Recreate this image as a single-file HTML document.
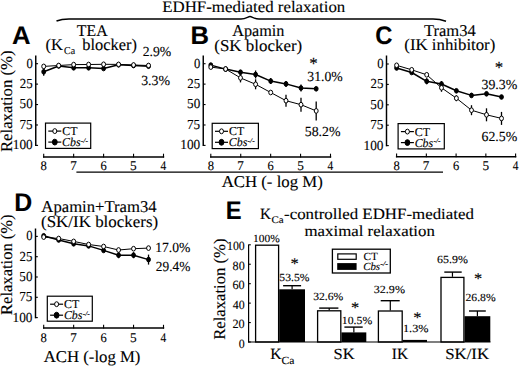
<!DOCTYPE html>
<html><head><meta charset="utf-8"><style>
html,body{margin:0;padding:0;background:#fff;}
svg{display:block;text-rendering:geometricPrecision;}
text{fill:#000;stroke:#000;stroke-width:0.12px;}
</style></head><body>
<svg width="520" height="366" viewBox="0 0 520 366">
<rect width="520" height="366" fill="#fff"/>
<text x="162.24" y="11.50" font-size="16" textLength="183.00" lengthAdjust="spacingAndGlyphs" font-family='"Liberation Serif", serif'>EDHF-mediated relaxation</text>
<path d="M56.5,21 C60,19.6 63,19.0 69,19.0 L241,19.0 C246,19.0 248,16.6 250,16.6 C252,16.6 254,19.0 259,19.0 L433,19.0 C439,19.0 442,19.8 446,21.3" fill="none" stroke="#000" stroke-width="1.5"/>
<text x="12.11" y="43.60" font-size="25.5" textLength="18.54" lengthAdjust="spacingAndGlyphs" font-weight="bold" font-family='"Liberation Sans", sans-serif'>A</text>
<text x="76.83" y="36.30" font-size="16.3" textLength="30.76" lengthAdjust="spacingAndGlyphs" font-family='"Liberation Serif", serif'>TEA</text>
<text x="45.51" y="50.00" font-size="16.5" textLength="17.41" lengthAdjust="spacingAndGlyphs" font-family='"Liberation Serif", serif'>(K</text>
<text x="64.05" y="53.90" font-size="10.5" textLength="11.06" lengthAdjust="spacingAndGlyphs" font-family='"Liberation Serif", serif'>Ca</text>
<text x="82.35" y="50.00" font-size="16.5" textLength="54.68" lengthAdjust="spacingAndGlyphs" font-family='"Liberation Serif", serif'>blocker)</text>
<text x="0" y="0" font-size="16.5" textLength="101.59" lengthAdjust="spacingAndGlyphs" font-family='"Liberation Serif", serif' transform="translate(11.70,152.05) rotate(-90)">Relaxation (%)</text>
<line x1="35.75" y1="55.50" x2="35.75" y2="146.10" stroke="#000" stroke-width="1.45"/>
<line x1="35.75" y1="63.70" x2="38.05" y2="63.70" stroke="#000" stroke-width="1.1"/>
<text x="26.40" y="67.60" font-size="13.8" textLength="6.31" lengthAdjust="spacingAndGlyphs" font-family='"Liberation Serif", serif'>0</text>
<line x1="35.75" y1="84.12" x2="38.05" y2="84.12" stroke="#000" stroke-width="1.1"/>
<text x="19.82" y="88.03" font-size="13.8" textLength="12.90" lengthAdjust="spacingAndGlyphs" font-family='"Liberation Serif", serif'>25</text>
<line x1="35.75" y1="104.55" x2="38.05" y2="104.55" stroke="#000" stroke-width="1.1"/>
<text x="19.61" y="108.45" font-size="13.8" textLength="13.11" lengthAdjust="spacingAndGlyphs" font-family='"Liberation Serif", serif'>50</text>
<line x1="35.75" y1="124.98" x2="38.05" y2="124.98" stroke="#000" stroke-width="1.1"/>
<text x="19.54" y="128.88" font-size="13.8" textLength="13.18" lengthAdjust="spacingAndGlyphs" font-family='"Liberation Serif", serif'>75</text>
<line x1="35.75" y1="145.40" x2="38.05" y2="145.40" stroke="#000" stroke-width="1.1"/>
<text x="12.80" y="149.30" font-size="13.8" textLength="19.93" lengthAdjust="spacingAndGlyphs" font-family='"Liberation Serif", serif'>100</text>
<line x1="43.00" y1="156.90" x2="164.20" y2="156.90" stroke="#000" stroke-width="1.45"/>
<line x1="43.70" y1="157.50" x2="43.70" y2="153.70" stroke="#000" stroke-width="1.1"/>
<text x="40.55" y="170.30" font-size="13.2" textLength="6.31" lengthAdjust="spacingAndGlyphs" font-family='"Liberation Serif", serif'>8</text>
<line x1="73.65" y1="157.50" x2="73.65" y2="153.70" stroke="#000" stroke-width="1.1"/>
<text x="70.15" y="170.30" font-size="13.2" textLength="6.54" lengthAdjust="spacingAndGlyphs" font-family='"Liberation Serif", serif'>7</text>
<line x1="103.60" y1="157.50" x2="103.60" y2="153.70" stroke="#000" stroke-width="1.1"/>
<text x="100.39" y="170.30" font-size="13.2" textLength="6.24" lengthAdjust="spacingAndGlyphs" font-family='"Liberation Serif", serif'>6</text>
<line x1="133.55" y1="157.50" x2="133.55" y2="153.70" stroke="#000" stroke-width="1.1"/>
<text x="130.11" y="170.30" font-size="13.2" textLength="6.63" lengthAdjust="spacingAndGlyphs" font-family='"Liberation Serif", serif'>5</text>
<line x1="163.50" y1="157.50" x2="163.50" y2="153.70" stroke="#000" stroke-width="1.1"/>
<text x="160.62" y="170.30" font-size="13.2" textLength="5.70" lengthAdjust="spacingAndGlyphs" font-family='"Liberation Serif", serif'>4</text>
<line x1="43.70" y1="67.80" x2="43.70" y2="75.80" stroke="#000" stroke-width="1.3"/>
<line x1="103.60" y1="67.00" x2="103.60" y2="70.00" stroke="#000" stroke-width="1.3"/>
<polyline points="43.70,71.80 58.68,66.00 73.65,67.80 88.62,67.80 103.60,68.50 118.58,64.80 133.55,65.50 148.53,66.20" fill="none" stroke="#000" stroke-width="1.5" stroke-linejoin="round"/>
<polyline points="43.70,66.40 58.68,65.50 73.65,64.60 88.62,64.50 103.60,64.30 118.58,64.40 133.55,65.00 148.53,65.50" fill="none" stroke="#000" stroke-width="1.0" stroke-linejoin="round"/>
<ellipse cx="43.70" cy="71.80" rx="1.9" ry="2.35" fill="#000" stroke="#000" stroke-width="1.0"/>
<ellipse cx="58.68" cy="66.00" rx="1.9" ry="2.35" fill="#000" stroke="#000" stroke-width="1.0"/>
<ellipse cx="73.65" cy="67.80" rx="1.9" ry="2.35" fill="#000" stroke="#000" stroke-width="1.0"/>
<ellipse cx="88.62" cy="67.80" rx="1.9" ry="2.35" fill="#000" stroke="#000" stroke-width="1.0"/>
<ellipse cx="103.60" cy="68.50" rx="1.9" ry="2.35" fill="#000" stroke="#000" stroke-width="1.0"/>
<ellipse cx="118.58" cy="64.80" rx="1.9" ry="2.35" fill="#000" stroke="#000" stroke-width="1.0"/>
<ellipse cx="133.55" cy="65.50" rx="1.9" ry="2.35" fill="#000" stroke="#000" stroke-width="1.0"/>
<ellipse cx="148.53" cy="66.20" rx="1.9" ry="2.35" fill="#000" stroke="#000" stroke-width="1.0"/>
<ellipse cx="43.70" cy="66.40" rx="1.95" ry="2.35" fill="#fff" stroke="#000" stroke-width="1.0"/>
<ellipse cx="58.68" cy="65.50" rx="1.95" ry="2.35" fill="#fff" stroke="#000" stroke-width="1.0"/>
<ellipse cx="73.65" cy="64.60" rx="1.95" ry="2.35" fill="#fff" stroke="#000" stroke-width="1.0"/>
<ellipse cx="88.62" cy="64.50" rx="1.95" ry="2.35" fill="#fff" stroke="#000" stroke-width="1.0"/>
<ellipse cx="103.60" cy="64.30" rx="1.95" ry="2.35" fill="#fff" stroke="#000" stroke-width="1.0"/>
<ellipse cx="118.58" cy="64.40" rx="1.95" ry="2.35" fill="#fff" stroke="#000" stroke-width="1.0"/>
<ellipse cx="133.55" cy="65.00" rx="1.95" ry="2.35" fill="#fff" stroke="#000" stroke-width="1.0"/>
<ellipse cx="148.53" cy="65.50" rx="1.95" ry="2.35" fill="#fff" stroke="#000" stroke-width="1.0"/>
<text x="142.63" y="56.00" font-size="13.9" textLength="28.57" lengthAdjust="spacingAndGlyphs" font-family='"Liberation Serif", serif'>2.9%</text>
<text x="141.16" y="85.10" font-size="13.9" textLength="28.95" lengthAdjust="spacingAndGlyphs" font-family='"Liberation Serif", serif'>3.3%</text>
<rect x="45.50" y="123.10" width="45.20" height="25.30" fill="#fff" stroke="#000" stroke-width="1.2"/>
<line x1="48.30" y1="131.10" x2="61.30" y2="131.10" stroke="#000" stroke-width="1.2"/>
<ellipse cx="54.80" cy="131.10" rx="2.0" ry="2.44" fill="#fff" stroke="#000" stroke-width="1.0"/>
<text x="62.27" y="135.20" font-size="12" textLength="15.19" lengthAdjust="spacingAndGlyphs" font-family='"Liberation Serif", serif'>CT</text>
<line x1="48.30" y1="142.10" x2="61.30" y2="142.10" stroke="#000" stroke-width="1.2"/>
<ellipse cx="54.80" cy="142.10" rx="2.4" ry="2.93" fill="#000" stroke="#000" stroke-width="1.0"/>
<text x="62.10" y="146.00" font-size="12" textLength="18.53" lengthAdjust="spacingAndGlyphs" font-style="italic" font-family='"Liberation Serif", serif'>Cbs</text>
<text x="80.89" y="142.70" font-size="7.0" textLength="7.05" lengthAdjust="spacingAndGlyphs" font-style="italic" font-family='"Liberation Serif", serif'>-/-</text>
<text x="190.49" y="43.60" font-size="25.5" textLength="18.47" lengthAdjust="spacingAndGlyphs" font-weight="bold" font-family='"Liberation Sans", sans-serif'>B</text>
<text x="232.19" y="36.10" font-size="16.5" textLength="52.23" lengthAdjust="spacingAndGlyphs" font-family='"Liberation Serif", serif'>Apamin</text>
<text x="214.29" y="50.70" font-size="16.5" textLength="87.89" lengthAdjust="spacingAndGlyphs" font-family='"Liberation Serif", serif'>(SK blocker)</text>
<line x1="203.25" y1="55.50" x2="203.25" y2="146.10" stroke="#000" stroke-width="1.45"/>
<line x1="203.25" y1="63.70" x2="205.55" y2="63.70" stroke="#000" stroke-width="1.1"/>
<text x="193.90" y="67.60" font-size="13.8" textLength="6.31" lengthAdjust="spacingAndGlyphs" font-family='"Liberation Serif", serif'>0</text>
<line x1="203.25" y1="84.12" x2="205.55" y2="84.12" stroke="#000" stroke-width="1.1"/>
<text x="187.32" y="88.03" font-size="13.8" textLength="12.90" lengthAdjust="spacingAndGlyphs" font-family='"Liberation Serif", serif'>25</text>
<line x1="203.25" y1="104.55" x2="205.55" y2="104.55" stroke="#000" stroke-width="1.1"/>
<text x="187.11" y="108.45" font-size="13.8" textLength="13.11" lengthAdjust="spacingAndGlyphs" font-family='"Liberation Serif", serif'>50</text>
<line x1="203.25" y1="124.98" x2="205.55" y2="124.98" stroke="#000" stroke-width="1.1"/>
<text x="187.04" y="128.88" font-size="13.8" textLength="13.18" lengthAdjust="spacingAndGlyphs" font-family='"Liberation Serif", serif'>75</text>
<line x1="203.25" y1="145.40" x2="205.55" y2="145.40" stroke="#000" stroke-width="1.1"/>
<text x="180.30" y="149.30" font-size="13.8" textLength="19.93" lengthAdjust="spacingAndGlyphs" font-family='"Liberation Serif", serif'>100</text>
<line x1="210.10" y1="156.90" x2="331.20" y2="156.90" stroke="#000" stroke-width="1.45"/>
<line x1="210.80" y1="157.50" x2="210.80" y2="153.70" stroke="#000" stroke-width="1.1"/>
<text x="207.65" y="170.30" font-size="13.2" textLength="6.31" lengthAdjust="spacingAndGlyphs" font-family='"Liberation Serif", serif'>8</text>
<line x1="240.73" y1="157.50" x2="240.73" y2="153.70" stroke="#000" stroke-width="1.1"/>
<text x="237.22" y="170.30" font-size="13.2" textLength="6.54" lengthAdjust="spacingAndGlyphs" font-family='"Liberation Serif", serif'>7</text>
<line x1="270.65" y1="157.50" x2="270.65" y2="153.70" stroke="#000" stroke-width="1.1"/>
<text x="267.44" y="170.30" font-size="13.2" textLength="6.24" lengthAdjust="spacingAndGlyphs" font-family='"Liberation Serif", serif'>6</text>
<line x1="300.57" y1="157.50" x2="300.57" y2="153.70" stroke="#000" stroke-width="1.1"/>
<text x="297.13" y="170.30" font-size="13.2" textLength="6.62" lengthAdjust="spacingAndGlyphs" font-family='"Liberation Serif", serif'>5</text>
<line x1="330.50" y1="157.50" x2="330.50" y2="153.70" stroke="#000" stroke-width="1.1"/>
<text x="327.62" y="170.30" font-size="13.2" textLength="5.70" lengthAdjust="spacingAndGlyphs" font-family='"Liberation Serif", serif'>4</text>
<line x1="240.50" y1="70.20" x2="240.50" y2="74.20" stroke="#000" stroke-width="1.3"/>
<line x1="255.60" y1="70.50" x2="255.60" y2="78.50" stroke="#000" stroke-width="1.3"/>
<line x1="270.70" y1="78.10" x2="270.70" y2="84.10" stroke="#000" stroke-width="1.3"/>
<line x1="286.00" y1="80.90" x2="286.00" y2="86.90" stroke="#000" stroke-width="1.3"/>
<line x1="301.00" y1="84.50" x2="301.00" y2="91.50" stroke="#000" stroke-width="1.3"/>
<polyline points="210.80,65.10 225.60,69.10 240.50,72.20 255.60,74.50 270.70,81.10 286.00,83.90 301.00,88.00 316.20,88.80" fill="none" stroke="#000" stroke-width="1.5" stroke-linejoin="round"/>
<line x1="240.50" y1="73.40" x2="240.50" y2="82.40" stroke="#000" stroke-width="1.3"/>
<line x1="255.60" y1="79.30" x2="255.60" y2="89.30" stroke="#000" stroke-width="1.3"/>
<line x1="286.00" y1="94.70" x2="286.00" y2="106.70" stroke="#000" stroke-width="1.3"/>
<line x1="301.00" y1="97.70" x2="301.00" y2="111.70" stroke="#000" stroke-width="1.3"/>
<line x1="316.20" y1="101.40" x2="316.20" y2="120.40" stroke="#000" stroke-width="1.3"/>
<polyline points="210.80,67.10 225.60,69.00 240.50,77.90 255.60,84.30 270.70,92.50 286.00,100.70 301.00,104.70 316.20,110.90" fill="none" stroke="#000" stroke-width="1.0" stroke-linejoin="round"/>
<ellipse cx="210.80" cy="65.10" rx="1.9" ry="2.35" fill="#000" stroke="#000" stroke-width="1.0"/>
<ellipse cx="225.60" cy="69.10" rx="1.9" ry="2.35" fill="#000" stroke="#000" stroke-width="1.0"/>
<ellipse cx="240.50" cy="72.20" rx="1.9" ry="2.35" fill="#000" stroke="#000" stroke-width="1.0"/>
<ellipse cx="255.60" cy="74.50" rx="1.9" ry="2.35" fill="#000" stroke="#000" stroke-width="1.0"/>
<ellipse cx="270.70" cy="81.10" rx="1.9" ry="2.35" fill="#000" stroke="#000" stroke-width="1.0"/>
<ellipse cx="286.00" cy="83.90" rx="1.9" ry="2.35" fill="#000" stroke="#000" stroke-width="1.0"/>
<ellipse cx="301.00" cy="88.00" rx="1.9" ry="2.35" fill="#000" stroke="#000" stroke-width="1.0"/>
<ellipse cx="316.20" cy="88.80" rx="1.9" ry="2.35" fill="#000" stroke="#000" stroke-width="1.0"/>
<ellipse cx="210.80" cy="67.10" rx="1.95" ry="2.35" fill="#fff" stroke="#000" stroke-width="1.0"/>
<ellipse cx="225.60" cy="69.00" rx="1.95" ry="2.35" fill="#fff" stroke="#000" stroke-width="1.0"/>
<ellipse cx="240.50" cy="77.90" rx="1.95" ry="2.35" fill="#fff" stroke="#000" stroke-width="1.0"/>
<ellipse cx="255.60" cy="84.30" rx="1.95" ry="2.35" fill="#fff" stroke="#000" stroke-width="1.0"/>
<ellipse cx="270.70" cy="92.50" rx="1.95" ry="2.35" fill="#fff" stroke="#000" stroke-width="1.0"/>
<ellipse cx="286.00" cy="100.70" rx="1.95" ry="2.35" fill="#fff" stroke="#000" stroke-width="1.0"/>
<ellipse cx="301.00" cy="104.70" rx="1.95" ry="2.35" fill="#fff" stroke="#000" stroke-width="1.0"/>
<ellipse cx="316.20" cy="110.90" rx="1.95" ry="2.35" fill="#fff" stroke="#000" stroke-width="1.0"/>
<text x="309.15" y="68.73" font-size="17" font-family='"Liberation Serif", serif'>*</text>
<text x="307.36" y="81.00" font-size="13.9" textLength="35.44" lengthAdjust="spacingAndGlyphs" font-family='"Liberation Serif", serif'>31.0%</text>
<text x="304.72" y="136.20" font-size="13.9" textLength="35.79" lengthAdjust="spacingAndGlyphs" font-family='"Liberation Serif", serif'>58.2%</text>
<rect x="212.20" y="123.30" width="46.20" height="25.30" fill="#fff" stroke="#000" stroke-width="1.2"/>
<line x1="215.00" y1="131.30" x2="228.00" y2="131.30" stroke="#000" stroke-width="1.2"/>
<ellipse cx="221.50" cy="131.30" rx="2.0" ry="2.44" fill="#fff" stroke="#000" stroke-width="1.0"/>
<text x="228.97" y="135.40" font-size="12" textLength="15.19" lengthAdjust="spacingAndGlyphs" font-family='"Liberation Serif", serif'>CT</text>
<line x1="215.00" y1="142.30" x2="228.00" y2="142.30" stroke="#000" stroke-width="1.2"/>
<ellipse cx="221.50" cy="142.30" rx="2.4" ry="2.93" fill="#000" stroke="#000" stroke-width="1.0"/>
<text x="228.80" y="146.20" font-size="12" textLength="18.53" lengthAdjust="spacingAndGlyphs" font-style="italic" font-family='"Liberation Serif", serif'>Cbs</text>
<text x="247.59" y="142.90" font-size="7.0" textLength="7.05" lengthAdjust="spacingAndGlyphs" font-style="italic" font-family='"Liberation Serif", serif'>-/-</text>
<text x="375.30" y="43.90" font-size="25.5" textLength="17.20" lengthAdjust="spacingAndGlyphs" font-weight="bold" font-family='"Liberation Sans", sans-serif'>C</text>
<text x="423.92" y="35.50" font-size="16.5" textLength="51.79" lengthAdjust="spacingAndGlyphs" font-family='"Liberation Serif", serif'>Tram34</text>
<text x="404.29" y="50.30" font-size="16.5" textLength="91.04" lengthAdjust="spacingAndGlyphs" font-family='"Liberation Serif", serif'>(IK inhibitor)</text>
<line x1="386.50" y1="55.50" x2="386.50" y2="146.30" stroke="#000" stroke-width="1.45"/>
<line x1="386.50" y1="64.00" x2="388.80" y2="64.00" stroke="#000" stroke-width="1.1"/>
<text x="377.15" y="67.90" font-size="13.8" textLength="6.31" lengthAdjust="spacingAndGlyphs" font-family='"Liberation Serif", serif'>0</text>
<line x1="386.50" y1="84.40" x2="388.80" y2="84.40" stroke="#000" stroke-width="1.1"/>
<text x="370.57" y="88.30" font-size="13.8" textLength="12.90" lengthAdjust="spacingAndGlyphs" font-family='"Liberation Serif", serif'>25</text>
<line x1="386.50" y1="104.80" x2="388.80" y2="104.80" stroke="#000" stroke-width="1.1"/>
<text x="370.36" y="108.70" font-size="13.8" textLength="13.11" lengthAdjust="spacingAndGlyphs" font-family='"Liberation Serif", serif'>50</text>
<line x1="386.50" y1="125.20" x2="388.80" y2="125.20" stroke="#000" stroke-width="1.1"/>
<text x="370.29" y="129.10" font-size="13.8" textLength="13.18" lengthAdjust="spacingAndGlyphs" font-family='"Liberation Serif", serif'>75</text>
<line x1="386.50" y1="145.60" x2="388.80" y2="145.60" stroke="#000" stroke-width="1.1"/>
<text x="363.55" y="149.50" font-size="13.8" textLength="19.93" lengthAdjust="spacingAndGlyphs" font-family='"Liberation Serif", serif'>100</text>
<line x1="395.90" y1="156.70" x2="516.30" y2="156.70" stroke="#000" stroke-width="1.45"/>
<line x1="396.60" y1="157.30" x2="396.60" y2="153.50" stroke="#000" stroke-width="1.1"/>
<text x="393.45" y="170.30" font-size="13.2" textLength="6.31" lengthAdjust="spacingAndGlyphs" font-family='"Liberation Serif", serif'>8</text>
<line x1="426.35" y1="157.30" x2="426.35" y2="153.50" stroke="#000" stroke-width="1.1"/>
<text x="422.85" y="170.30" font-size="13.2" textLength="6.54" lengthAdjust="spacingAndGlyphs" font-family='"Liberation Serif", serif'>7</text>
<line x1="456.10" y1="157.30" x2="456.10" y2="153.50" stroke="#000" stroke-width="1.1"/>
<text x="452.89" y="170.30" font-size="13.2" textLength="6.24" lengthAdjust="spacingAndGlyphs" font-family='"Liberation Serif", serif'>6</text>
<line x1="485.85" y1="157.30" x2="485.85" y2="153.50" stroke="#000" stroke-width="1.1"/>
<text x="482.41" y="170.30" font-size="13.2" textLength="6.62" lengthAdjust="spacingAndGlyphs" font-family='"Liberation Serif", serif'>5</text>
<line x1="515.60" y1="157.30" x2="515.60" y2="153.50" stroke="#000" stroke-width="1.1"/>
<text x="512.72" y="170.30" font-size="13.2" textLength="5.70" lengthAdjust="spacingAndGlyphs" font-family='"Liberation Serif", serif'>4</text>
<line x1="426.70" y1="78.30" x2="426.70" y2="84.30" stroke="#000" stroke-width="1.3"/>
<line x1="441.50" y1="81.00" x2="441.50" y2="87.00" stroke="#000" stroke-width="1.3"/>
<line x1="471.50" y1="93.40" x2="471.50" y2="97.40" stroke="#000" stroke-width="1.3"/>
<line x1="486.50" y1="91.80" x2="486.50" y2="95.80" stroke="#000" stroke-width="1.3"/>
<polyline points="396.60,68.00 411.70,72.50 426.70,81.30 441.50,84.00 456.40,90.80 471.50,95.40 486.50,93.80 501.50,97.00" fill="none" stroke="#000" stroke-width="1.5" stroke-linejoin="round"/>
<line x1="441.50" y1="83.80" x2="441.50" y2="91.80" stroke="#000" stroke-width="1.3"/>
<line x1="456.40" y1="95.20" x2="456.40" y2="101.20" stroke="#000" stroke-width="1.3"/>
<line x1="471.50" y1="105.20" x2="471.50" y2="115.20" stroke="#000" stroke-width="1.3"/>
<line x1="486.50" y1="108.30" x2="486.50" y2="121.30" stroke="#000" stroke-width="1.3"/>
<line x1="501.50" y1="111.90" x2="501.50" y2="124.90" stroke="#000" stroke-width="1.3"/>
<polyline points="396.60,65.30 411.70,69.80 426.70,74.80 441.50,87.80 456.40,98.20 471.50,110.20 486.50,114.80 501.50,118.40" fill="none" stroke="#000" stroke-width="1.0" stroke-linejoin="round"/>
<ellipse cx="396.60" cy="68.00" rx="1.9" ry="2.35" fill="#000" stroke="#000" stroke-width="1.0"/>
<ellipse cx="411.70" cy="72.50" rx="1.9" ry="2.35" fill="#000" stroke="#000" stroke-width="1.0"/>
<ellipse cx="426.70" cy="81.30" rx="1.9" ry="2.35" fill="#000" stroke="#000" stroke-width="1.0"/>
<ellipse cx="441.50" cy="84.00" rx="1.9" ry="2.35" fill="#000" stroke="#000" stroke-width="1.0"/>
<ellipse cx="456.40" cy="90.80" rx="1.9" ry="2.35" fill="#000" stroke="#000" stroke-width="1.0"/>
<ellipse cx="471.50" cy="95.40" rx="1.9" ry="2.35" fill="#000" stroke="#000" stroke-width="1.0"/>
<ellipse cx="486.50" cy="93.80" rx="1.9" ry="2.35" fill="#000" stroke="#000" stroke-width="1.0"/>
<ellipse cx="501.50" cy="97.00" rx="1.9" ry="2.35" fill="#000" stroke="#000" stroke-width="1.0"/>
<ellipse cx="396.60" cy="65.30" rx="1.95" ry="2.35" fill="#fff" stroke="#000" stroke-width="1.0"/>
<ellipse cx="411.70" cy="69.80" rx="1.95" ry="2.35" fill="#fff" stroke="#000" stroke-width="1.0"/>
<ellipse cx="426.70" cy="74.80" rx="1.95" ry="2.35" fill="#fff" stroke="#000" stroke-width="1.0"/>
<ellipse cx="441.50" cy="87.80" rx="1.95" ry="2.35" fill="#fff" stroke="#000" stroke-width="1.0"/>
<ellipse cx="456.40" cy="98.20" rx="1.95" ry="2.35" fill="#fff" stroke="#000" stroke-width="1.0"/>
<ellipse cx="471.50" cy="110.20" rx="1.95" ry="2.35" fill="#fff" stroke="#000" stroke-width="1.0"/>
<ellipse cx="486.50" cy="114.80" rx="1.95" ry="2.35" fill="#fff" stroke="#000" stroke-width="1.0"/>
<ellipse cx="501.50" cy="118.40" rx="1.95" ry="2.35" fill="#fff" stroke="#000" stroke-width="1.0"/>
<text x="494.75" y="72.73" font-size="17" font-family='"Liberation Serif", serif'>*</text>
<text x="481.46" y="88.60" font-size="13.9" textLength="35.85" lengthAdjust="spacingAndGlyphs" font-family='"Liberation Serif", serif'>39.3%</text>
<text x="481.53" y="140.60" font-size="13.9" textLength="35.78" lengthAdjust="spacingAndGlyphs" font-family='"Liberation Serif", serif'>62.5%</text>
<rect x="398.10" y="123.60" width="46.20" height="25.30" fill="#fff" stroke="#000" stroke-width="1.2"/>
<line x1="400.90" y1="131.60" x2="413.90" y2="131.60" stroke="#000" stroke-width="1.2"/>
<ellipse cx="407.40" cy="131.60" rx="2.0" ry="2.44" fill="#fff" stroke="#000" stroke-width="1.0"/>
<text x="414.87" y="135.70" font-size="12" textLength="15.19" lengthAdjust="spacingAndGlyphs" font-family='"Liberation Serif", serif'>CT</text>
<line x1="400.90" y1="142.60" x2="413.90" y2="142.60" stroke="#000" stroke-width="1.2"/>
<ellipse cx="407.40" cy="142.60" rx="2.4" ry="2.93" fill="#000" stroke="#000" stroke-width="1.0"/>
<text x="414.70" y="146.50" font-size="12" textLength="18.53" lengthAdjust="spacingAndGlyphs" font-style="italic" font-family='"Liberation Serif", serif'>Cbs</text>
<text x="433.49" y="143.20" font-size="7.0" textLength="7.05" lengthAdjust="spacingAndGlyphs" font-style="italic" font-family='"Liberation Serif", serif'>-/-</text>
<line x1="76.40" y1="172.20" x2="443.00" y2="172.20" stroke="#000" stroke-width="1.3"/>
<text x="221.68" y="187.10" font-size="16.5" textLength="101.08" lengthAdjust="spacingAndGlyphs" font-family='"Liberation Serif", serif'>ACH (- log M)</text>
<text x="14.33" y="211.00" font-size="25.5" textLength="17.97" lengthAdjust="spacingAndGlyphs" font-weight="bold" font-family='"Liberation Sans", sans-serif'>D</text>
<text x="41.38" y="211.80" font-size="16.5" textLength="115.23" lengthAdjust="spacingAndGlyphs" font-family='"Liberation Serif", serif'>Apamin+Tram34</text>
<text x="41.09" y="226.70" font-size="16.5" textLength="117.03" lengthAdjust="spacingAndGlyphs" font-family='"Liberation Serif", serif'>(SK/IK blockers)</text>
<text x="0" y="0" font-size="16.5" textLength="100.58" lengthAdjust="spacingAndGlyphs" font-family='"Liberation Serif", serif' transform="translate(11.50,314.95) rotate(-90)">Relaxation (%)</text>
<line x1="35.50" y1="228.50" x2="35.50" y2="318.30" stroke="#000" stroke-width="1.45"/>
<line x1="35.50" y1="236.40" x2="37.80" y2="236.40" stroke="#000" stroke-width="1.1"/>
<text x="26.15" y="240.30" font-size="13.8" textLength="6.31" lengthAdjust="spacingAndGlyphs" font-family='"Liberation Serif", serif'>0</text>
<line x1="35.50" y1="256.70" x2="37.80" y2="256.70" stroke="#000" stroke-width="1.1"/>
<text x="19.57" y="260.60" font-size="13.8" textLength="12.90" lengthAdjust="spacingAndGlyphs" font-family='"Liberation Serif", serif'>25</text>
<line x1="35.50" y1="277.00" x2="37.80" y2="277.00" stroke="#000" stroke-width="1.1"/>
<text x="19.36" y="280.90" font-size="13.8" textLength="13.11" lengthAdjust="spacingAndGlyphs" font-family='"Liberation Serif", serif'>50</text>
<line x1="35.50" y1="297.30" x2="37.80" y2="297.30" stroke="#000" stroke-width="1.1"/>
<text x="19.29" y="301.20" font-size="13.8" textLength="13.18" lengthAdjust="spacingAndGlyphs" font-family='"Liberation Serif", serif'>75</text>
<line x1="35.50" y1="317.60" x2="37.80" y2="317.60" stroke="#000" stroke-width="1.1"/>
<text x="12.55" y="321.50" font-size="13.8" textLength="19.93" lengthAdjust="spacingAndGlyphs" font-family='"Liberation Serif", serif'>100</text>
<line x1="43.00" y1="328.00" x2="164.20" y2="328.00" stroke="#000" stroke-width="1.45"/>
<line x1="43.70" y1="328.60" x2="43.70" y2="324.80" stroke="#000" stroke-width="1.1"/>
<text x="40.55" y="342.30" font-size="13.2" textLength="6.31" lengthAdjust="spacingAndGlyphs" font-family='"Liberation Serif", serif'>8</text>
<line x1="73.65" y1="328.60" x2="73.65" y2="324.80" stroke="#000" stroke-width="1.1"/>
<text x="70.15" y="342.30" font-size="13.2" textLength="6.54" lengthAdjust="spacingAndGlyphs" font-family='"Liberation Serif", serif'>7</text>
<line x1="103.60" y1="328.60" x2="103.60" y2="324.80" stroke="#000" stroke-width="1.1"/>
<text x="100.39" y="342.30" font-size="13.2" textLength="6.24" lengthAdjust="spacingAndGlyphs" font-family='"Liberation Serif", serif'>6</text>
<line x1="133.55" y1="328.60" x2="133.55" y2="324.80" stroke="#000" stroke-width="1.1"/>
<text x="130.11" y="342.30" font-size="13.2" textLength="6.63" lengthAdjust="spacingAndGlyphs" font-family='"Liberation Serif", serif'>5</text>
<line x1="163.50" y1="328.60" x2="163.50" y2="324.80" stroke="#000" stroke-width="1.1"/>
<text x="160.62" y="342.30" font-size="13.2" textLength="5.70" lengthAdjust="spacingAndGlyphs" font-family='"Liberation Serif", serif'>4</text>
<line x1="118.58" y1="252.20" x2="118.58" y2="258.20" stroke="#000" stroke-width="1.3"/>
<line x1="133.55" y1="252.20" x2="133.55" y2="258.20" stroke="#000" stroke-width="1.3"/>
<line x1="148.53" y1="254.60" x2="148.53" y2="264.60" stroke="#000" stroke-width="1.3"/>
<polyline points="43.70,235.80 58.68,240.00 73.65,243.80 88.62,245.90 103.60,250.40 118.58,255.20 133.55,255.20 148.53,259.60" fill="none" stroke="#000" stroke-width="1.5" stroke-linejoin="round"/>
<polyline points="43.70,237.10 58.68,238.50 73.65,241.40 88.62,244.50 103.60,246.50 118.58,250.00 133.55,248.70 148.53,248.10" fill="none" stroke="#000" stroke-width="1.0" stroke-linejoin="round"/>
<ellipse cx="43.70" cy="235.80" rx="1.9" ry="2.35" fill="#000" stroke="#000" stroke-width="1.0"/>
<ellipse cx="58.68" cy="240.00" rx="1.9" ry="2.35" fill="#000" stroke="#000" stroke-width="1.0"/>
<ellipse cx="73.65" cy="243.80" rx="1.9" ry="2.35" fill="#000" stroke="#000" stroke-width="1.0"/>
<ellipse cx="88.62" cy="245.90" rx="1.9" ry="2.35" fill="#000" stroke="#000" stroke-width="1.0"/>
<ellipse cx="103.60" cy="250.40" rx="1.9" ry="2.35" fill="#000" stroke="#000" stroke-width="1.0"/>
<ellipse cx="118.58" cy="255.20" rx="1.9" ry="2.35" fill="#000" stroke="#000" stroke-width="1.0"/>
<ellipse cx="133.55" cy="255.20" rx="1.9" ry="2.35" fill="#000" stroke="#000" stroke-width="1.0"/>
<ellipse cx="148.53" cy="259.60" rx="1.9" ry="2.35" fill="#000" stroke="#000" stroke-width="1.0"/>
<ellipse cx="43.70" cy="237.10" rx="1.95" ry="2.35" fill="#fff" stroke="#000" stroke-width="1.0"/>
<ellipse cx="58.68" cy="238.50" rx="1.95" ry="2.35" fill="#fff" stroke="#000" stroke-width="1.0"/>
<ellipse cx="73.65" cy="241.40" rx="1.95" ry="2.35" fill="#fff" stroke="#000" stroke-width="1.0"/>
<ellipse cx="88.62" cy="244.50" rx="1.95" ry="2.35" fill="#fff" stroke="#000" stroke-width="1.0"/>
<ellipse cx="103.60" cy="246.50" rx="1.95" ry="2.35" fill="#fff" stroke="#000" stroke-width="1.0"/>
<ellipse cx="118.58" cy="250.00" rx="1.95" ry="2.35" fill="#fff" stroke="#000" stroke-width="1.0"/>
<ellipse cx="133.55" cy="248.70" rx="1.95" ry="2.35" fill="#fff" stroke="#000" stroke-width="1.0"/>
<ellipse cx="148.53" cy="248.10" rx="1.95" ry="2.35" fill="#fff" stroke="#000" stroke-width="1.0"/>
<text x="155.22" y="252.30" font-size="13.9" textLength="35.18" lengthAdjust="spacingAndGlyphs" font-family='"Liberation Serif", serif'>17.0%</text>
<text x="155.85" y="271.20" font-size="13.9" textLength="34.54" lengthAdjust="spacingAndGlyphs" font-family='"Liberation Serif", serif'>29.4%</text>
<rect x="47.30" y="296.20" width="45.00" height="25.00" fill="#fff" stroke="#000" stroke-width="1.2"/>
<line x1="50.10" y1="304.20" x2="63.10" y2="304.20" stroke="#000" stroke-width="1.2"/>
<ellipse cx="56.60" cy="304.20" rx="2.0" ry="2.44" fill="#fff" stroke="#000" stroke-width="1.0"/>
<text x="64.07" y="308.30" font-size="12" textLength="15.19" lengthAdjust="spacingAndGlyphs" font-family='"Liberation Serif", serif'>CT</text>
<line x1="50.10" y1="315.20" x2="63.10" y2="315.20" stroke="#000" stroke-width="1.2"/>
<ellipse cx="56.60" cy="315.20" rx="2.4" ry="2.93" fill="#000" stroke="#000" stroke-width="1.0"/>
<text x="63.90" y="319.10" font-size="12" textLength="18.53" lengthAdjust="spacingAndGlyphs" font-style="italic" font-family='"Liberation Serif", serif'>Cbs</text>
<text x="82.69" y="315.80" font-size="7.0" textLength="7.05" lengthAdjust="spacingAndGlyphs" font-style="italic" font-family='"Liberation Serif", serif'>-/-</text>
<text x="43.68" y="361.80" font-size="16.5" textLength="96.78" lengthAdjust="spacingAndGlyphs" font-family='"Liberation Serif", serif'>ACH (-log M)</text>
<text x="225.81" y="219.40" font-size="25.5" textLength="15.82" lengthAdjust="spacingAndGlyphs" font-weight="bold" font-family='"Liberation Sans", sans-serif'>E</text>
<text x="259.99" y="218.70" font-size="15.5" textLength="11.05" lengthAdjust="spacingAndGlyphs" font-family='"Liberation Serif", serif'>K</text>
<text x="271.51" y="223.30" font-size="10" textLength="12.21" lengthAdjust="spacingAndGlyphs" font-family='"Liberation Serif", serif'>Ca</text>
<text x="284.06" y="218.70" font-size="15.5" textLength="189.89" lengthAdjust="spacingAndGlyphs" font-family='"Liberation Serif", serif'>-controlled EDHF-mediated</text>
<text x="304.51" y="235.50" font-size="15.5" textLength="130.32" lengthAdjust="spacingAndGlyphs" font-family='"Liberation Serif", serif'>maximal relaxation</text>
<text x="0" y="0" font-size="16.5" textLength="101.28" lengthAdjust="spacingAndGlyphs" font-family='"Liberation Serif", serif' transform="translate(225.00,339.85) rotate(-90)">Relaxation (%)</text>
<line x1="248.60" y1="244.40" x2="248.60" y2="342.60" stroke="#000" stroke-width="1.2"/>
<line x1="248.60" y1="342.00" x2="250.80" y2="342.00" stroke="#000" stroke-width="1.1"/>
<text x="238.77" y="347.60" font-size="12.6" textLength="5.95" lengthAdjust="spacingAndGlyphs" font-family='"Liberation Serif", serif'>0</text>
<line x1="248.60" y1="322.56" x2="250.80" y2="322.56" stroke="#000" stroke-width="1.1"/>
<text x="232.50" y="328.16" font-size="12.6" textLength="12.24" lengthAdjust="spacingAndGlyphs" font-family='"Liberation Serif", serif'>20</text>
<line x1="248.60" y1="303.12" x2="250.80" y2="303.12" stroke="#000" stroke-width="1.1"/>
<text x="232.81" y="308.72" font-size="12.6" textLength="11.91" lengthAdjust="spacingAndGlyphs" font-family='"Liberation Serif", serif'>40</text>
<line x1="248.60" y1="283.68" x2="250.80" y2="283.68" stroke="#000" stroke-width="1.1"/>
<text x="232.50" y="289.28" font-size="12.6" textLength="12.24" lengthAdjust="spacingAndGlyphs" font-family='"Liberation Serif", serif'>60</text>
<line x1="248.60" y1="264.24" x2="250.80" y2="264.24" stroke="#000" stroke-width="1.1"/>
<text x="232.56" y="269.84" font-size="12.6" textLength="12.17" lengthAdjust="spacingAndGlyphs" font-family='"Liberation Serif", serif'>80</text>
<line x1="248.60" y1="244.80" x2="250.80" y2="244.80" stroke="#000" stroke-width="1.1"/>
<text x="226.99" y="250.40" font-size="12.6" textLength="17.74" lengthAdjust="spacingAndGlyphs" font-family='"Liberation Serif", serif'>100</text>
<rect x="255.60" y="245.20" width="23.00" height="96.80" fill="#fff" stroke="#000" stroke-width="1.3"/>
<line x1="292.10" y1="285.70" x2="292.10" y2="289.30" stroke="#000" stroke-width="1.2"/>
<line x1="283.10" y1="285.70" x2="301.10" y2="285.70" stroke="#000" stroke-width="1.4"/>
<rect x="279.20" y="289.30" width="25.80" height="52.70" fill="#000"/>
<line x1="329.20" y1="308.10" x2="329.20" y2="310.20" stroke="#000" stroke-width="1.2"/>
<line x1="319.20" y1="308.10" x2="338.40" y2="308.10" stroke="#000" stroke-width="1.4"/>
<rect x="317.60" y="310.80" width="23.20" height="31.20" fill="#fff" stroke="#000" stroke-width="1.3"/>
<line x1="353.85" y1="327.10" x2="353.85" y2="332.40" stroke="#000" stroke-width="1.2"/>
<line x1="344.40" y1="327.10" x2="362.70" y2="327.10" stroke="#000" stroke-width="1.4"/>
<rect x="341.40" y="332.40" width="24.90" height="9.60" fill="#000"/>
<line x1="390.30" y1="300.70" x2="390.30" y2="310.40" stroke="#000" stroke-width="1.2"/>
<line x1="380.70" y1="300.70" x2="399.70" y2="300.70" stroke="#000" stroke-width="1.4"/>
<rect x="378.40" y="311.00" width="23.80" height="31.00" fill="#fff" stroke="#000" stroke-width="1.3"/>
<rect x="402.80" y="339.90" width="24.20" height="2.10" fill="#000"/>
<line x1="452.45" y1="272.10" x2="452.45" y2="276.80" stroke="#000" stroke-width="1.2"/>
<line x1="444.30" y1="272.10" x2="461.70" y2="272.10" stroke="#000" stroke-width="1.4"/>
<rect x="441.00" y="277.40" width="22.90" height="64.60" fill="#fff" stroke="#000" stroke-width="1.3"/>
<line x1="477.40" y1="311.00" x2="477.40" y2="316.20" stroke="#000" stroke-width="1.2"/>
<line x1="469.00" y1="311.00" x2="485.80" y2="311.00" stroke="#000" stroke-width="1.4"/>
<rect x="464.50" y="316.20" width="25.80" height="25.80" fill="#000"/>
<line x1="248.10" y1="342.00" x2="490.50" y2="342.00" stroke="#000" stroke-width="1.2"/>
<text x="253.02" y="241.50" font-size="11" textLength="26.71" lengthAdjust="spacingAndGlyphs" font-family='"Liberation Serif", serif'>100%</text>
<text x="279.35" y="280.80" font-size="11" textLength="30.08" lengthAdjust="spacingAndGlyphs" font-family='"Liberation Serif", serif'>53.5%</text>
<text x="313.17" y="299.50" font-size="11" textLength="30.17" lengthAdjust="spacingAndGlyphs" font-family='"Liberation Serif", serif'>32.6%</text>
<text x="341.89" y="324.40" font-size="11" textLength="30.35" lengthAdjust="spacingAndGlyphs" font-family='"Liberation Serif", serif'>10.5%</text>
<text x="373.75" y="293.00" font-size="11" textLength="31.20" lengthAdjust="spacingAndGlyphs" font-family='"Liberation Serif", serif'>32.9%</text>
<text x="402.94" y="331.90" font-size="11" textLength="25.61" lengthAdjust="spacingAndGlyphs" font-family='"Liberation Serif", serif'>1.3%</text>
<text x="437.01" y="262.50" font-size="11" textLength="30.83" lengthAdjust="spacingAndGlyphs" font-family='"Liberation Serif", serif'>65.9%</text>
<text x="465.53" y="301.40" font-size="11" textLength="30.11" lengthAdjust="spacingAndGlyphs" font-family='"Liberation Serif", serif'>26.8%</text>
<text x="290.48" y="268.90" font-size="16.5" font-family='"Liberation Serif", serif'>*</text>
<text x="351.07" y="313.10" font-size="16.5" font-family='"Liberation Serif", serif'>*</text>
<text x="413.27" y="322.80" font-size="16.5" font-family='"Liberation Serif", serif'>*</text>
<text x="473.88" y="284.40" font-size="16.5" font-family='"Liberation Serif", serif'>*</text>
<text x="270.18" y="359.20" font-size="15.5" textLength="11.36" lengthAdjust="spacingAndGlyphs" font-family='"Liberation Serif", serif'>K</text>
<text x="281.58" y="363.60" font-size="11" textLength="12.95" lengthAdjust="spacingAndGlyphs" font-family='"Liberation Serif", serif'>Ca</text>
<text x="333.58" y="359.20" font-size="15.5" textLength="21.09" lengthAdjust="spacingAndGlyphs" font-family='"Liberation Serif", serif'>SK</text>
<text x="391.81" y="358.90" font-size="15.5" textLength="16.40" lengthAdjust="spacingAndGlyphs" font-family='"Liberation Serif", serif'>IK</text>
<text x="445.16" y="359.00" font-size="15.5" textLength="43.99" lengthAdjust="spacingAndGlyphs" font-family='"Liberation Serif", serif'>SK/IK</text>
<rect x="332.40" y="249.20" width="57.90" height="23.80" fill="#fff" stroke="#000" stroke-width="1.3"/>
<rect x="337.80" y="253.90" width="18.40" height="5.40" fill="#fff" stroke="#000" stroke-width="1.2"/>
<rect x="337.2" y="263.1" width="19.4" height="6.8" fill="#000"/>
<text x="363.40" y="260.20" font-size="11" textLength="14.35" lengthAdjust="spacingAndGlyphs" font-family='"Liberation Serif", serif'>CT</text>
<text x="363.26" y="269.60" font-size="11" textLength="16.83" lengthAdjust="spacingAndGlyphs" font-style="italic" font-family='"Liberation Serif", serif'>Cbs</text>
<text x="380.16" y="265.60" font-size="7" textLength="7.81" lengthAdjust="spacingAndGlyphs" font-style="italic" font-family='"Liberation Serif", serif'>-/-</text>
</svg>
</body></html>
